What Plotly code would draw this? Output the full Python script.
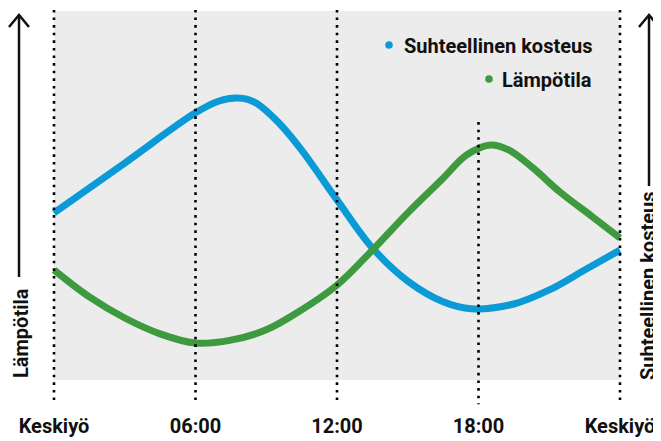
import plotly.graph_objects as go

# ---- data ----
hours_rh = [0, 3, 6, 7, 7.8, 8.5, 9.5, 10.5, 12, 13.5, 15, 16.5, 17.7, 19.5, 21, 22.5, 24]
rh_values = [45.3, 58.8, 72.4, 75.6, 76.4, 75.3, 69.9, 62.3, 48.8, 35.8, 26.8, 21.2, 19.3, 20.6, 24.4, 29.8, 35.2]

hours_temp = [0, 1.5, 3, 4.5, 6, 7.5, 9, 10.5, 12, 13.5, 15, 16.5, 17.5, 18.5, 19.3, 20.3, 21.5, 22.8, 24]
temp_values = [29.8, 22.5, 16.8, 12.5, 10.0, 10.8, 13.6, 19.0, 25.7, 35.2, 45.3, 54.7, 61.0, 63.7, 62.3, 57.5, 50.7, 44.4, 38.5]

tick_hours = [0, 6, 12, 18, 24]
tick_labels = ["Keskiyö", "06:00", "12:00", "18:00", "Keskiyö"]

series_names = ["Suhteellinen kosteus", "Lämpötila"]
BLUE = "#0a9bd7"
GREEN = "#3e9a3e"
GREY = "#ececec"
INK = "#111111"

# page body adds an 8px offset; work in screen pixels and convert
OFF = 8
W, H = 653, 433
ML, MR, MT, MB = 42, 37, 0, 35
PW, PH = W - ML - MR, H - MT - MB


def px(x):
    return (x - OFF - ML) / PW


def py(y):
    return (H - MB - (y - OFF)) / PH


FONT = dict(family="Roboto, Arial, sans-serif", size=20, color=INK, weight=700)

fig = go.Figure()
fig.add_trace(go.Scatter(x=hours_rh, y=rh_values, mode="lines", name=series_names[0],
                         line=dict(color=BLUE, width=7, shape="spline", smoothing=1.0),
                         showlegend=False, hoverinfo="skip"))
fig.add_trace(go.Scatter(x=hours_temp, y=temp_values, mode="lines", name=series_names[1],
                         line=dict(color=GREEN, width=7, shape="spline", smoothing=1.0),
                         showlegend=False, hoverinfo="skip"))

shapes = []
# grey background panel
shapes.append(dict(type="rect", xref="x", yref="y", x0=tick_hours[0], x1=tick_hours[-1], y0=0, y1=100,
                   fillcolor=GREY, line=dict(width=0), layer="below"))
# dotted vertical guides
for h in tick_hours:
    top = 69.9 if h == 18 else 100.3
    shapes.append(dict(type="line", xref="x", yref="y", x0=h, x1=h, y0=top, y1=-6.6,
                       line=dict(color="#000000", width=2.6, dash="2.6px,5px"), layer="above"))

# axis arrows (left and right)
for ax, y_top, y_bot in [(19, 15, 277), (649, 15, 186)]:
    shapes.append(dict(type="line", xref="paper", yref="paper", x0=px(ax), x1=px(ax), y0=py(y_bot), y1=py(y_top + 1),
                       line=dict(color=INK, width=2.5)))
    shapes.append(dict(type="path", xref="paper", yref="paper",
                       path=f"M {px(ax-10)},{py(y_top+12)} L {px(ax)},{py(y_top)} L {px(ax+10)},{py(y_top+12)}",
                       line=dict(color=INK, width=2.5)))

# legend dots
for cx, cy, col in [(389, 45, BLUE), (489, 79, GREEN)]:
    r = 3.8
    shapes.append(dict(type="circle", xref="paper", yref="paper", x0=px(cx - r), x1=px(cx + r),
                       y0=py(cy + r), y1=py(cy - r), fillcolor=col, line=dict(width=0)))

annotations = []
# legend texts
for name, cy in [(series_names[0], 46), (series_names[1], 80)]:
    annotations.append(dict(text=name, xref="paper", yref="paper", x=px(594), y=py(cy),
                            xanchor="right", yanchor="middle", showarrow=False, font=FONT))
# axis titles
annotations.append(dict(text="Lämpötila", xref="paper", yref="paper", x=px(21), y=py(333), textangle=-90,
                        xanchor="center", yanchor="middle", showarrow=False, font=FONT, borderpad=0))
annotations.append(dict(text="Suhteellinen kosteus", xref="paper", yref="paper", x=px(648), y=py(286), textangle=-90,
                        xanchor="center", yanchor="middle", showarrow=False, font=FONT, borderpad=0))

fig.update_layout(
    width=W, height=H,
    margin=dict(l=ML, r=MR, t=MT, b=MB, pad=0),
    paper_bgcolor="white", plot_bgcolor="white",
    shapes=shapes, annotations=annotations,
    xaxis=dict(range=[-0.1696, 24.1696], tickvals=tick_hours, ticktext=tick_labels,
               showgrid=False, zeroline=False, showline=False, ticks="",
               tickfont=FONT, ticklabelstandoff=6, fixedrange=True),
    yaxis=dict(range=[-7.046, 100.81], showgrid=False, zeroline=False, showline=False,
               showticklabels=False, ticks="", fixedrange=True),
    showlegend=False,
)

fig.write_html("out.html")
